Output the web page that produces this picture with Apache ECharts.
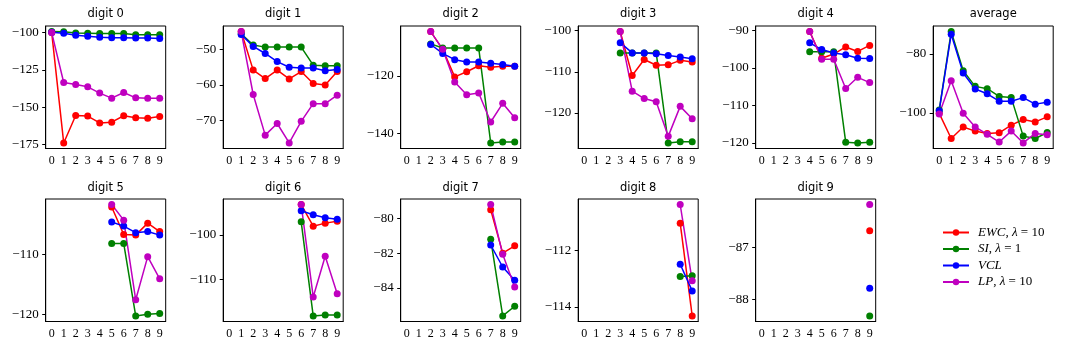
<!DOCTYPE html>
<html>
<head>
<meta charset="utf-8">
<script src="https://cdn.jsdelivr.net/npm/echarts@6/dist/echarts.min.js"></script>
<style>
  html, body { margin: 0; padding: 0; background: #fff; }
  #main { width: 1070px; height: 350px; }
</style>
</head>
<body>
<div id="main"></div>
<script>
  // x categories (task index)
  var categories = ['0', '1', '2', '3', '4', '5', '6', '7', '8', '9'];

  var panelTitles = ['digit 0', 'digit 1', 'digit 2', 'digit 3', 'digit 4', 'average',
                     'digit 5', 'digit 6', 'digit 7', 'digit 8', 'digit 9'];
  // first task index where each panel has values
  var panelStart = [0, 1, 2, 3, 4, 0, 5, 6, 7, 8, 9];

  var yTicks = [
    [-175, -150, -125, -100],
    [-70, -60, -50],
    [-140, -120],
    [-120, -110, -100],
    [-120, -110, -100, -90],
    [-100, -80],
    [-120, -110],
    [-110, -100],
    [-84, -82, -80],
    [-114, -112],
    [-88, -87]
  ];

  var ewc = [
    [-100.0, -173.9, -155.5, -155.9, -160.5, -160.0, -155.7, -157.0, -157.3, -156.2],
    [-44.9, -55.8, -58.2, -55.8, -58.3, -56.2, -59.6, -60.0, -56.2],
    [-104.5, -110.7, -120.3, -118.5, -116.4, -116.9, -116.6, -116.6],
    [-100.2, -110.9, -107.0, -108.4, -108.3, -107.2, -107.6],
    [-90.3, -97.4, -96.3, -94.4, -95.6, -94.0],
    [-100.1, -108.6, -104.7, -106.1, -106.9, -106.7, -104.1, -102.2, -103.0, -101.3],
    [-102.1, -106.7, -106.8, -104.8, -106.2],
    [-93.1, -98.0, -97.3, -96.9],
    [-79.5, -82.0, -81.58],
    [-111.02, -114.32],
    [-86.68]
  ];
  var si = [
    [-99.3, -99.5, -100.2, -100.4, -100.6, -100.6, -100.6, -101.5, -101.5, -101.5],
    [-45.5, -48.7, -49.3, -49.3, -49.3, -49.3, -54.4, -54.6, -54.6],
    [-108.8, -110.2, -110.2, -110.2, -110.2, -143.3, -143.0, -143.0],
    [-105.4, -105.4, -105.4, -105.4, -127.3, -127.0, -127.0],
    [-95.7, -95.7, -95.7, -119.8, -120.0, -119.8],
    [-99.0, -72.5, -85.7, -91.0, -91.8, -94.4, -94.8, -107.8, -108.6, -106.6],
    [-108.2, -108.2, -120.3, -120.0, -119.9],
    [-97.0, -118.3, -118.1, -118.1],
    [-81.2, -85.62, -85.06],
    [-112.92, -112.89],
    [-88.31]
  ];
  var vcl = [
    [-99.8, -100.4, -101.8, -102.5, -103.1, -103.4, -103.4, -103.6, -103.6, -104.0],
    [-45.7, -49.1, -51.1, -53.4, -55.0, -55.2, -55.2, -56.0, -55.6],
    [-109.0, -112.1, -114.3, -115.1, -115.1, -115.5, -116.0, -116.6],
    [-102.9, -105.4, -105.4, -105.6, -106.0, -106.4, -106.8],
    [-93.3, -95.1, -96.0, -96.5, -97.4, -97.5],
    [-99.2, -73.4, -86.5, -91.9, -93.5, -96.0, -96.0, -94.8, -97.0, -96.4],
    [-104.6, -105.3, -106.4, -106.2, -106.8],
    [-94.5, -95.4, -96.1, -96.4],
    [-81.53, -82.8, -83.57],
    [-112.48, -113.43],
    [-87.78]
  ];
  var lp = [
    [-100.0, -133.4, -134.7, -136.3, -140.5, -143.9, -140.1, -143.7, -143.9, -143.9],
    [-44.9, -62.7, -74.2, -70.9, -76.4, -70.3, -65.3, -65.3, -62.9],
    [-104.5, -110.7, -122.1, -126.5, -125.9, -136.0, -129.5, -134.5],
    [-100.2, -114.7, -116.5, -117.3, -125.7, -118.4, -121.4],
    [-90.3, -97.7, -97.7, -105.5, -102.5, -103.9],
    [-100.3, -89.1, -100.1, -104.7, -107.2, -109.8, -106.1, -110.1, -106.9, -107.3],
    [-101.7, -104.3, -117.6, -110.4, -114.1],
    [-93.1, -114.0, -104.8, -113.3],
    [-79.2, -82.07, -83.95],
    [-110.36, -113.07],
    [-86.18]
  ];

  var methods = [
    {name: 'EWC', color: '#ff0000', vals: ewc, label: '{i|EWC}{n|, }{i|\u03bb}{n| = 10}'},
    {name: 'SI', color: '#008000', vals: si, label: '{i|SI}{n|, }{i|\u03bb}{n| = 1}'},
    {name: 'VCL', color: '#0000ff', vals: vcl, label: '{i|VCL}'},
    {name: 'LP', color: '#bf00bf', vals: lp, label: '{i|LP}{n|, }{i|\u03bb}{n| = 10}'}
  ];

  var serif = 'Liberation Serif';
  var minus = function (v) { return String(v).replace('-', '\u2212'); };

  var grids = [], xAxes = [], yAxes = [], titles = [], series = [];
  for (var p = 0; p < panelTitles.length; p++) {
    var row = p < 6 ? 0 : 1;
    var col = p < 6 ? p : p - 6;
    var gLeft = 45.7 + col * 177.5;
    var gTop = row === 0 ? 26 : 199;
    grids.push({left: gLeft, top: gTop, width: 120, height: 122.5,
      show: true, borderColor: '#000', borderWidth: 1});

    // y range like matplotlib: data extent plus 5% margin
    var all = [];
    methods.forEach(function (m) { all = all.concat(m.vals[p]); });
    var lo = Math.min.apply(null, all), hi = Math.max.apply(null, all);
    var pad = (hi - lo) * 0.05;

    xAxes.push({
      gridIndex: p, type: 'category', data: categories, boundaryGap: true,
      axisLine: {lineStyle: {color: '#000', width: 1}},
      axisTick: {alignWithLabel: true, interval: 0, length: 3.5, lineStyle: {color: '#000'}},
      axisLabel: {interval: 0, margin: 6, color: '#000', fontFamily: serif, fontSize: 12},
      splitLine: {show: false}
    });
    yAxes.push({
      gridIndex: p, type: 'value', min: lo - pad, max: hi + pad,
      axisLine: {show: true, lineStyle: {color: '#000', width: 1}},
      axisTick: {show: true, length: 3.5, customValues: yTicks[p], lineStyle: {color: '#000'}},
      axisLabel: {customValues: yTicks[p], margin: 7, color: '#000', fontFamily: serif, fontSize: 13,
        formatter: minus},
      splitLine: {show: false}
    });
    titles.push({
      text: panelTitles[p], left: gLeft + 60, top: row === 0 ? 8 : 182, textAlign: 'center', padding: 0,
      textStyle: {fontFamily: 'DejaVu Sans', fontSize: 11.5, fontWeight: 'normal', color: '#000'}
    });

    methods.forEach(function (m) {
      var data = [];
      for (var k = 0; k < panelStart[p]; k++) data.push(null);
      series.push({
        name: m.name, type: 'line', xAxisIndex: p, yAxisIndex: p,
        data: data.concat(m.vals[p]),
        symbol: 'circle', symbolSize: 7, showSymbol: true,
        itemStyle: {color: m.color},
        lineStyle: {color: m.color, width: 1.5},
        emphasis: {disabled: true}
      });
    });
  }

  var legendLabels = {};
  methods.forEach(function (m) { legendLabels[m.name] = m.label; });

  var myChart = echarts.init(document.getElementById('main'), null, {renderer: 'canvas'});
  myChart.setOption({
    animation: false,
    backgroundColor: '#fff',
    title: titles,
    grid: grids,
    xAxis: xAxes,
    yAxis: yAxes,
    legend: {
      data: methods.map(function (m) { return m.name; }),
      orient: 'vertical', left: 937, top: 221, itemWidth: 26, itemHeight: 8, itemGap: 3.5,
      formatter: function (name) { return legendLabels[name]; },
      textStyle: {
        padding: [0, 0, 0, 4],
        rich: {
          i: {fontFamily: serif, fontStyle: 'italic', fontSize: 13, color: '#000', lineHeight: 14},
          n: {fontFamily: serif, fontSize: 13, color: '#000', lineHeight: 14}
        }
      }
    },
    series: series
  });
</script>
</body>
</html>
